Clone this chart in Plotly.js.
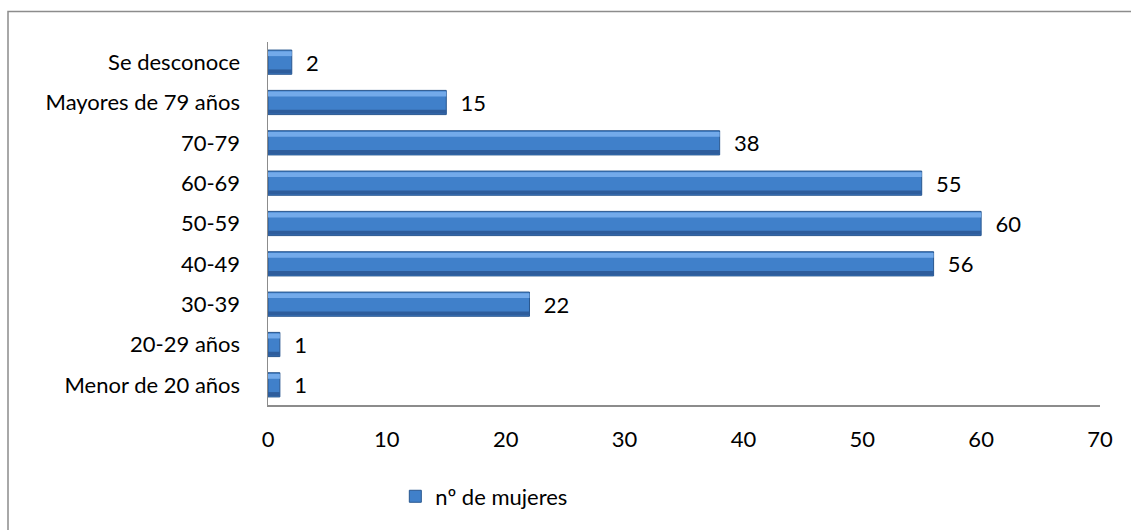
<!DOCTYPE html>
<html>
<head>
<meta charset="utf-8">
<script src="https://cdn.plot.ly/plotly-3.0.1.min.js"></script>
<style>html,body{margin:0;padding:0;background:#fff;}#chart{width:1131px;height:530px;}</style>
</head>
<body>
<div id="chart"></div>
<script>
const categories = ["Menor de 20 años", "20-29 años", "30-39", "40-49", "50-59", "60-69", "70-79", "Mayores de 79 años", "Se desconoce"];
const values = [1, 1, 22, 56, 60, 55, 38, 15, 2];
const seriesName = "nº de mujeres";
const xTicks = [0, 10, 20, 30, 40, 50, 60, 70];

const FONT = "Lato, 'Noto Sans', sans-serif";
const FS = 22;

const main = {
  type: "bar", orientation: "h", name: seriesName,
  x: values, y: categories,
  offset: -0.3, width: 0.6,
  marker: {color: "#4080CA", line: {color: "#29578F", width: 1}},
  text: values.map(v => "\u00a0\u00a0" + v), textposition: "outside",
  constraintext: "none",
  textfont: {family: FONT, size: FS, color: "#000"},
  cliponaxis: false, hoverinfo: "x+y"
};
const hiTop = {
  type: "bar", orientation: "h", showlegend: false, hoverinfo: "skip",
  x: values, y: categories, offset: 0.15, width: 0.12,
  marker: {color: "#73AAEA", line: {width: 0}}
};
const darkBottom = {
  type: "bar", orientation: "h", showlegend: false, hoverinfo: "skip",
  x: values, y: categories, offset: -0.28, width: 0.1,
  marker: {color: "#2E5D9C", line: {width: 0}}
};

const layout = {
  width: 1131, height: 530,
  margin: {l: 268, r: 31, t: 42, b: 124.5, pad: 0},
  paper_bgcolor: "#fff", plot_bgcolor: "#fff",
  barmode: "overlay",
  font: {family: FONT, size: FS, color: "#000"},
  xaxis: {
    range: [0, 70], tickvals: xTicks, ticktext: xTicks.map(String),
    showgrid: false, zeroline: false, showline: true, linecolor: "#8C8C8C", linewidth: 1.5,
    ticks: "", ticklabelstandoff: 14, fixedrange: true,
    tickfont: {family: FONT, size: FS, color: "#000"}
  },
  yaxis: {
    type: "category", categoryorder: "array", categoryarray: categories,
    showgrid: false, zeroline: false, showline: true, linecolor: "#8C8C8C", linewidth: 1.5,
    ticks: "", ticklabelstandoff: 22, fixedrange: true,
    tickfont: {family: FONT, size: FS, color: "#000"}
  },
  showlegend: true,
  legend: {
    orientation: "h", x: 0.26, xanchor: "center", y: -0.252, yanchor: "middle",
    font: {family: FONT, size: FS, color: "#000"}, bgcolor: "rgba(0,0,0,0)"
  },
  shapes: [{
    type: "rect", xref: "paper", yref: "paper",
    x0: -0.3125, x1: 1.2, y0: -0.6, y1: 1.084,
    line: {color: "#8C8C8C", width: 1.5}, fillcolor: "rgba(0,0,0,0)", layer: "below"
  }]
};

Plotly.newPlot("chart", [main, darkBottom, hiTop], layout, {displayModeBar: false, staticPlot: true});
</script>
</body>
</html>
